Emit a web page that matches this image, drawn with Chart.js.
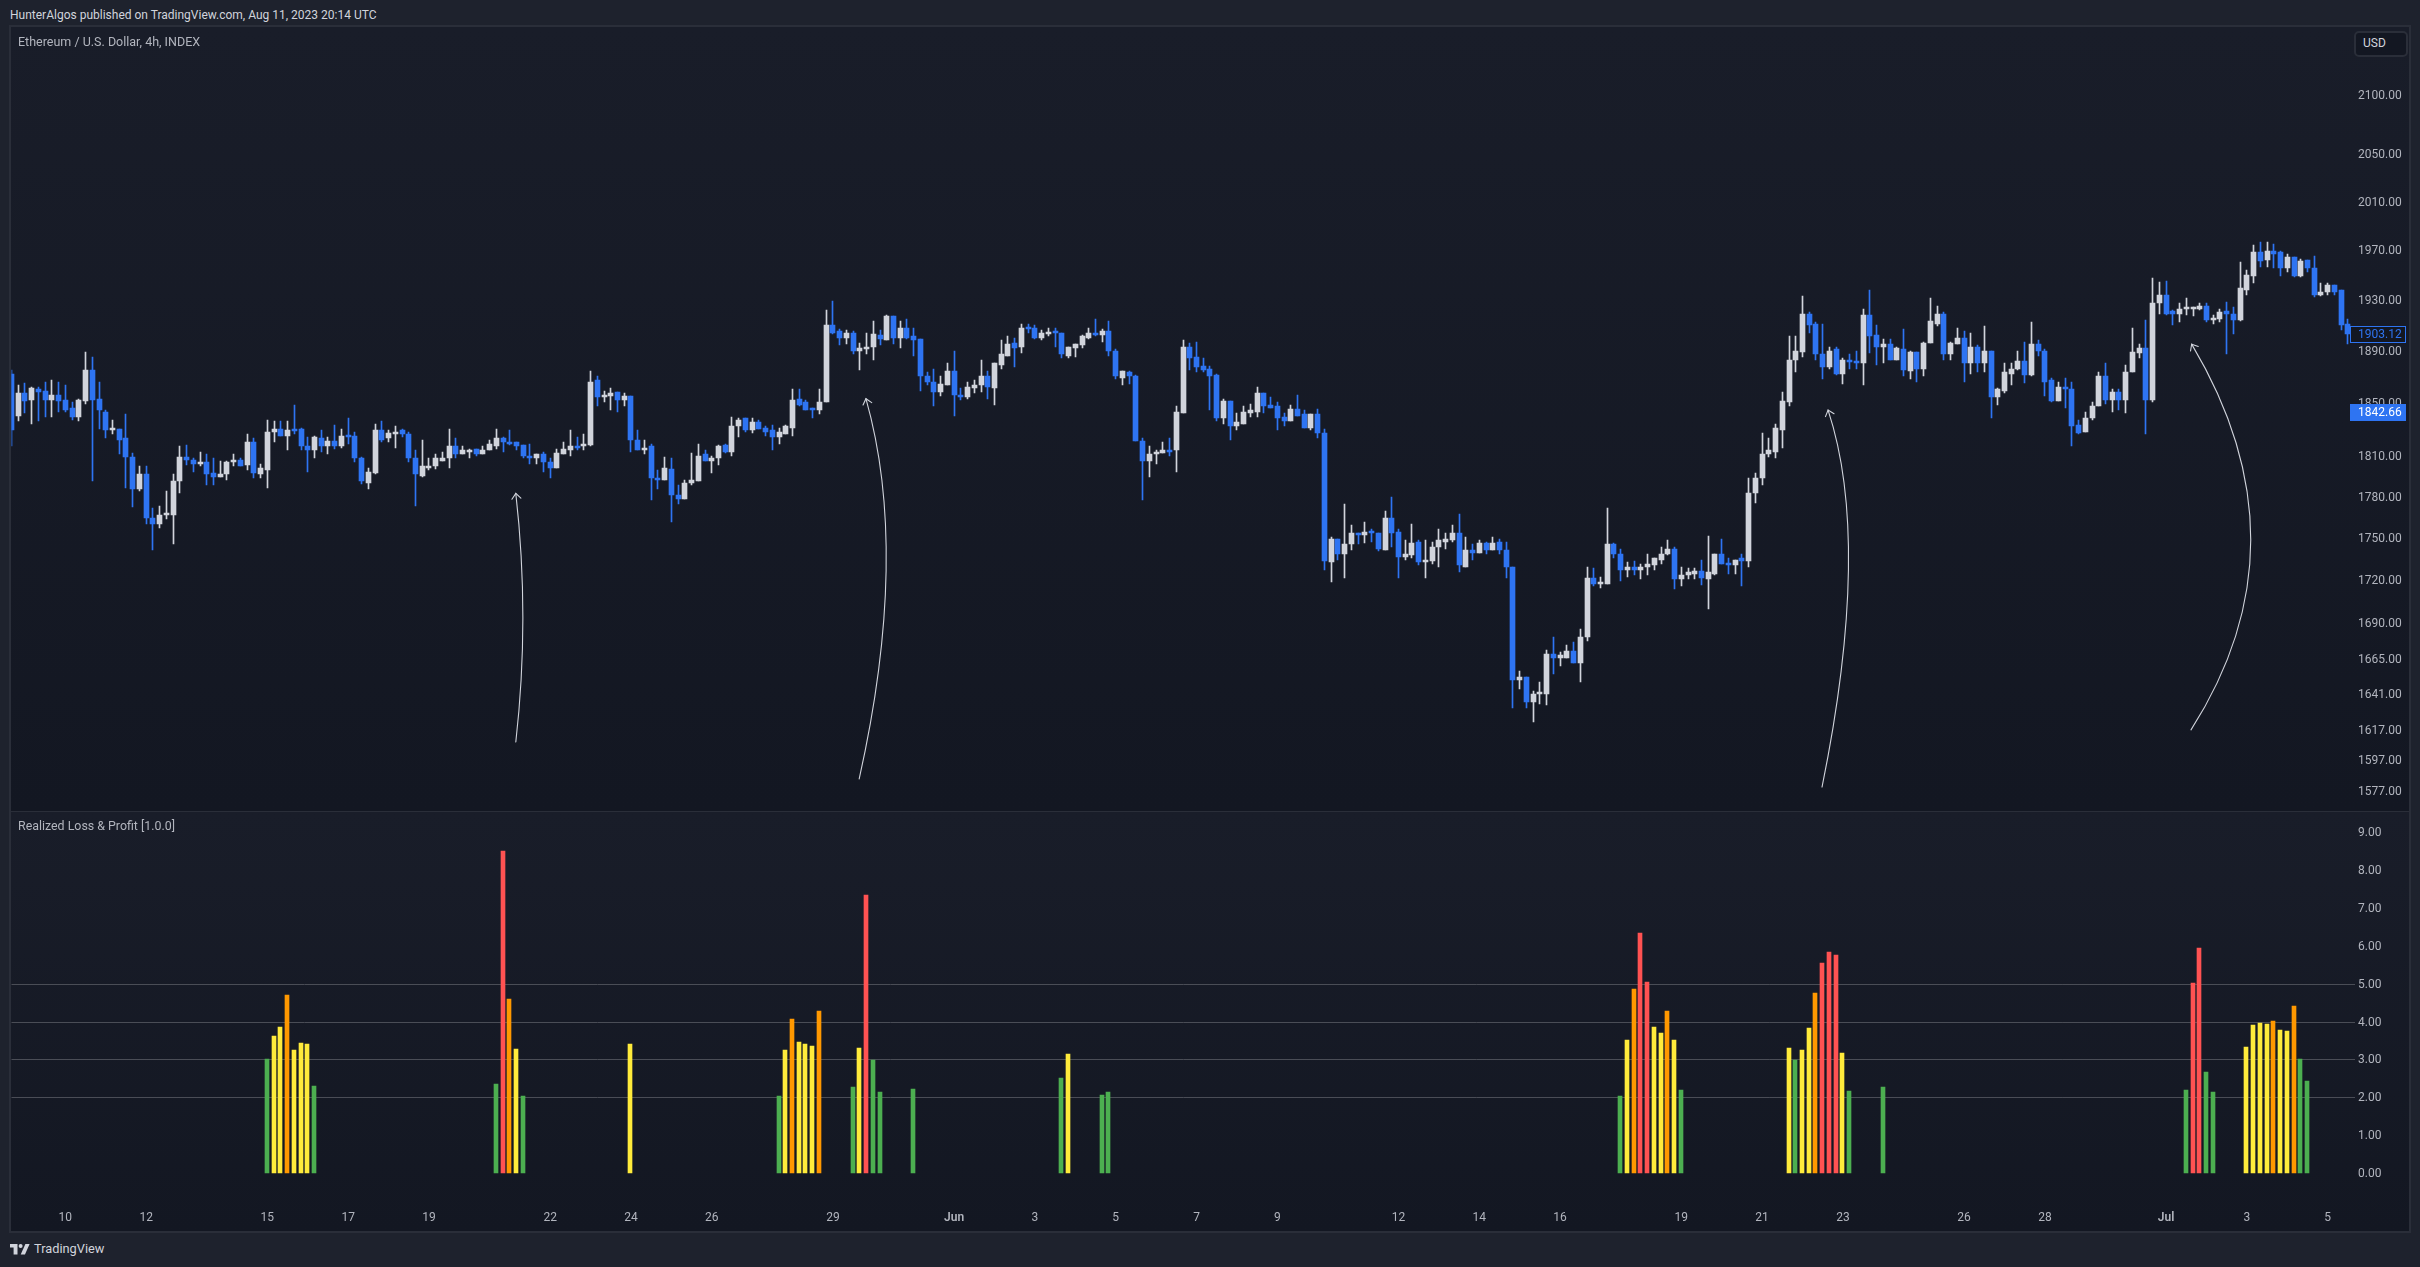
<!DOCTYPE html>
<html><head><meta charset="utf-8">
<style>
html,body{margin:0;padding:0;width:2420px;height:1267px;background:#1e222d;overflow:hidden;font-family:Roboto,sans-serif}
.abs{position:absolute}
.t{position:absolute;white-space:nowrap;line-height:16px}
canvas{position:absolute;display:block}
</style></head><body>
<div class="t" style="left:10px;top:7px;font-size:12px;color:#d1d4dc">HunterAlgos published on TradingView.com, Aug 11, 2023 20:14 UTC</div>
<div class="abs" style="left:9px;top:25px;width:2398px;height:1204px;border:2px solid #2a2e39"></div>
<div class="abs" style="left:11px;top:27px;width:2398px;height:784px;background:linear-gradient(#191d29,#131722)"></div>
<div class="abs" style="left:11px;top:811px;width:2398px;height:1px;background:#2a2e39"></div>
<div class="abs" style="left:11px;top:812px;width:2398px;height:419px;background:linear-gradient(#191d29,#131722)"></div>
<canvas id="priceChart" width="2398" height="784" style="left:11px;top:27px"></canvas>
<canvas id="lossChart" width="2398" height="419" style="left:11px;top:812px"></canvas>
<div class="t" style="left:18px;top:34px;font-size:12.5px;color:#b2b5be">Ethereum / U.S. Dollar, 4h, INDEX</div>
<div class="t" style="left:18px;top:818px;font-size:12.4px;color:#b2b5be">Realized Loss &amp; Profit [1.0.0]</div>
<div class="abs" style="left:2354px;top:31px;width:50px;height:22px;border:2px solid #2a2e39;border-radius:5px;background:#131722"></div>
<div class="t" style="left:2363px;top:35px;font-size:12px;color:#d1d4dc">USD</div>
<svg class="abs" style="left:10px;top:1244px" width="20" height="11" viewBox="0 0 20 11"><path fill="#d1d4dc" d="M0 0H7.5V10.5H3.6V3.6H0Z"/><circle cx="10.6" cy="2" r="2" fill="#d1d4dc"/><path fill="#d1d4dc" d="M15.4 0H19.6L15 10.5H10.7Z"/></svg>
<div class="t" style="left:34px;top:1241px;font-size:12.8px;color:#d1d4dc">TradingView</div>
<script src="https://cdn.jsdelivr.net/npm/chart.js@4"></script>
<script>
const opens=[1872,1840,1857,1852,1860,1859,1852,1856,1852,1846,
1839,1851,1875,1853,1843,1829,1830,1823,1809,1785,
1796,1764,1760,1766,1766,1791,1809,1807,1804,1805,
1797,1794,1796,1805,1807,1803,1820,1796,1799,1828,
1830,1825,1829,1830,1817,1814,1823,1817,1821,1817,
1825,1825,1808,1790,1797,1829,1823,1826,1829,1826,
1808,1795,1801,1802,1806,1808,1817,1811,1813,1815,
1811,1814,1817,1823,1820,1820,1818,1810,1808,1811,
1805,1801,1811,1814,1817,1817,1818,1867,1854,1855,
1858,1852,1855,1822,1814,1817,1793,1792,1800,1781,
1778,1790,1791,1811,1806,1808,1818,1813,1832,1838,
1829,1835,1831,1829,1824,1826,1831,1853,1850,1845,
1844,1850,1910,1905,1900,1904,1890,1891,1893,1902,
1898,1917,1900,1908,1901,1899,1870,1866,1858,1863,
1874,1856,1854,1861,1863,1870,1861,1879,1886,1896,
1893,1908,1908,1900,1903,1904,1904,1886,1892,1894,
1900,1904,1902,1905,1890,1869,1873,1870,1821,1806,
1811,1812,1814,1814,1842,1893,1885,1878,1876,1871,
1838,1851,1832,1834,1842,1843,1857,1848,1847,1839,
1836,1845,1841,1831,1841,1827,1732,1749,1738,1745,
1753,1752,1754,1753,1741,1764,1754,1736,1737,1747,
1732,1733,1743,1747,1748,1753,1729,1741,1739,1746,
1741,1747,1741,1729,1650,1652,1635,1641,1641,1668,
1665,1665,1670,1662,1680,1721,1717,1717,1745,1738,
1727,1729,1727,1729,1730,1734,1738,1742,1720,1723,
1724,1726,1720,1724,1738,1731,1730,1735,1733,1782,
1793,1811,1813,1829,1850,1883,1889,1919,1911,1887,
1877,1891,1872,1883,1882,1880,1918,1902,1893,1895,
1883,1891,1874,1889,1876,1896,1911,1919,1887,1895,
1900,1880,1893,1880,1890,1854,1859,1872,1876,1882,
1871,1895,1890,1867,1851,1862,1860,1833,1828,1838,
1847,1870,1852,1858,1852,1873,1888,1892,1852,1927,
1934,1921,1919,1923,1923,1923,1925,1914,1915,1921,
1919,1914,1938,1949,1968,1962,1969,1968,1955,1964,
1949,1962,1955,1934,1936,1942,1938,1911];
const highs=[1875,1863,1865,1862,1862,1866,1867,1866,1863,1850,
1853,1889,1885,1866,1844,1837,1830,1841,1812,1802,
1802,1771,1773,1784,1796,1817,1818,1808,1813,1811,
1808,1806,1806,1811,1808,1826,1823,1804,1837,1836,
1836,1836,1848,1831,1824,1825,1829,1824,1833,1830,
1838,1828,1809,1801,1834,1836,1829,1832,1830,1828,
1814,1822,1808,1811,1813,1830,1823,1817,1815,1815,
1817,1822,1830,1824,1829,1820,1818,1819,1811,1813,
1808,1815,1820,1829,1824,1826,1874,1870,1859,1861,
1858,1857,1855,1829,1822,1819,1799,1809,1808,1788,
1792,1812,1819,1814,1810,1818,1819,1839,1838,1838,
1838,1837,1832,1833,1831,1833,1860,1860,1852,1846,
1860,1922,1929,1907,1906,1905,1896,1904,1913,1906,
1918,1917,1913,1915,1908,1899,1873,1876,1870,1880,
1890,1861,1866,1867,1883,1874,1880,1898,1901,1900,
1911,1911,1910,1906,1908,1908,1904,1893,1895,1902,
1908,1915,1907,1913,1891,1874,1874,1871,1823,1817,
1814,1820,1823,1847,1898,1896,1897,1884,1878,1872,
1853,1851,1842,1847,1849,1862,1857,1854,1850,1842,
1848,1856,1844,1841,1845,1830,1750,1749,1774,1759,
1753,1761,1756,1753,1769,1779,1756,1748,1760,1748,
1748,1747,1756,1753,1759,1767,1750,1745,1748,1747,
1750,1749,1747,1729,1656,1652,1643,1649,1671,1680,
1669,1674,1676,1685,1729,1728,1722,1771,1746,1742,
1732,1733,1731,1738,1735,1743,1748,1743,1729,1728,
1728,1734,1751,1738,1749,1735,1734,1738,1793,1797,
1827,1823,1834,1858,1901,1901,1933,1920,1912,1911,
1893,1893,1884,1887,1890,1923,1938,1910,1899,1899,
1893,1907,1890,1889,1897,1931,1925,1920,1897,1908,
1905,1904,1894,1909,1890,1861,1880,1880,1890,1897,
1912,1898,1891,1869,1866,1869,1866,1837,1843,1850,
1873,1880,1860,1860,1879,1908,1895,1914,1947,1944,
1945,1922,1927,1931,1924,1927,1927,1918,1923,1928,
1924,1960,1954,1974,1976,1976,1975,1969,1967,1964,
1963,1962,1965,1943,1943,1942,1938,1915];
const lows=[1817,1836,1842,1834,1836,1839,1839,1843,1843,1837,
1836,1849,1791,1830,1823,1826,1811,1786,1772,1784,
1760,1741,1757,1763,1745,1782,1803,1798,1802,1788,
1788,1794,1792,1802,1802,1799,1793,1793,1786,1820,
1825,1814,1826,1814,1798,1808,1813,1811,1815,1816,
1819,1805,1789,1785,1796,1820,1820,1816,1824,1805,
1773,1794,1799,1800,1806,1801,1808,1811,1808,1810,
1811,1814,1815,1813,1818,1814,1808,1804,1804,1798,
1793,1801,1811,1810,1814,1814,1817,1847,1850,1844,
1843,1847,1813,1814,1811,1777,1785,1792,1761,1774,
1778,1788,1791,1806,1797,1803,1812,1810,1824,1828,
1827,1830,1825,1814,1819,1826,1825,1847,1844,1838,
1841,1850,1903,1894,1895,1887,1875,1887,1883,1894,
1898,1895,1892,1899,1886,1859,1863,1847,1855,1863,
1840,1852,1853,1857,1858,1853,1848,1876,1886,1877,
1888,1904,1899,1898,1901,1893,1884,1884,1885,1892,
1899,1901,1897,1886,1868,1863,1864,1821,1777,1794,
1804,1812,1810,1798,1842,1875,1873,1873,1844,1836,
1834,1822,1829,1834,1839,1839,1842,1846,1829,1832,
1836,1840,1831,1829,1823,1727,1718,1734,1721,1741,
1745,1746,1747,1740,1741,1743,1721,1734,1735,1730,
1721,1731,1729,1742,1747,1725,1729,1734,1739,1738,
1741,1738,1721,1631,1644,1631,1622,1634,1633,1654,
1660,1665,1662,1649,1677,1715,1714,1717,1735,1719,
1722,1723,1720,1723,1727,1731,1737,1713,1715,1720,
1720,1716,1699,1723,1731,1724,1724,1715,1729,1775,
1788,1809,1808,1816,1847,1873,1885,1904,1883,1868,
1876,1871,1864,1876,1876,1863,1888,1879,1880,1883,
1883,1870,1868,1866,1870,1896,1909,1883,1883,1895,
1866,1872,1873,1873,1838,1848,1857,1863,1875,1865,
1870,1886,1855,1850,1851,1846,1817,1826,1828,1837,
1847,1849,1843,1844,1842,1873,1884,1826,1850,1919,
1918,1910,1912,1918,1917,1922,1912,1911,1912,1887,
1903,1913,1934,1943,1956,1956,1955,1949,1952,1948,
1948,1952,1932,1933,1934,1934,1906,1895];
const closes=[1829,1857,1851,1861,1858,1852,1856,1851,1844,1839,
1852,1875,1852,1844,1829,1831,1822,1809,1785,1796,
1764,1760,1766,1766,1791,1809,1807,1804,1805,1796,
1794,1796,1805,1807,1802,1820,1797,1801,1828,1830,
1825,1829,1828.5,1817,1814,1824,1817,1821,1817,1825,
1824,1808,1791,1798,1829,1822,1827,1828,1826,1808,
1796,1802,1802,1808,1808,1817,1811,1814,1814,1811,
1814,1819,1823,1820,1819,1817,1810,1808,1811,1805,
1801,1812,1815,1817,1816,1819,1866,1854,1856,1857,
1852,1855,1822,1814,1816,1793,1792,1801,1781,1778,
1790,1792,1810,1806,1808,1817,1813,1832,1837,1829,
1835,1830,1828,1824,1828,1832,1852,1848,1844,1844,
1850,1910,1904,1900,1904,1890,1892,1893,1903,1899,
1917,1900,1908,1900,1898,1870,1866,1858,1864,1874,
1856,1854,1862,1863,1870,1862,1880,1887,1895,1892,
1908,1907,1900,1904,1904,1903.5,1887,1893,1895,1901,
1904,1902,1905,1890,1870,1874,1870,1821,1806,1811,
1813,1814,1813,1843,1893,1884,1877,1875,1870,1838,
1851,1832,1835,1843,1844,1857,1847,1846,1838,1836,
1845,1840,1831,1841,1827,1733,1749,1738,1745,1753,
1752,1754,1753,1742,1764,1753,1736,1738,1746,1732,
1734,1743,1748,1749,1753,1730,1741,1739,1746,1741,
1746,1741,1729,1650,1652,1635,1641,1641,1668,1665,
1667,1670,1662,1680,1721,1717,1718,1745,1738,1727,
1729,1727,1729,1731,1735,1738,1742,1720,1723,1725,
1726,1721,1725,1738,1731,1730,1734,1733,1782,1793,
1811,1814,1831,1851,1883,1890,1919,1910,1887,1877,
1890,1872,1883,1881,1880,1918,1901,1893,1895,1883,
1892,1875,1889,1876,1896,1913,1919,1887,1896,1900,
1880,1893,1880,1890,1854,1860,1873,1876,1882,1871,
1895,1890,1866,1851,1862,1860,1832,1827,1838,1847,
1870,1852,1858,1852,1873,1889,1892,1852,1927,1934,
1919,1919,1923,1923,1923,1925,1914,1915,1920,1919,
1914,1939,1950,1968,1961,1969,1967,1955,1964,1949,
1961,1955,1934,1936,1942,1936,1910,1903.12];
const priceTicks=[2100,2050,2010,1970,1930,1890,1850,1810,1780,1750,1720,1690,1665,1641,1617,1597,1577];
const axisTickBars=[8,20,38,50,62,80,92,104,122,140,152,164,176,188,206,218,230,248,260,272,290,302,320,332,344];
const axisTickLabels=['10','12','15','17','19','22','24','26','29','Jun','3','5','7','9','12','14','16','19','21','23','26','28','Jul','3','5'];
const lossBars=[38,39,40,41,42,43,44,45,72,73,74,75,76,92,114,115,116,117,118,119,120,125,126,127,128,129,134,156,157,162,163,239,240,241,242,243,244,245,246,247,248,264,265,266,267,268,269,270,271,272,273,278,323,324,325,326,327,332,333,334,335,336,337,338,339,340,341];
const lossValues=[3.01,3.62,3.86,4.70,3.25,3.43,3.41,2.30,2.35,8.51,4.60,3.28,2.03,3.41,2.03,3.25,4.07,3.46,3.41,3.36,4.28,2.27,3.30,7.34,2.99,2.14,2.22,2.51,3.14,2.06,2.14,2.03,3.51,4.86,6.34,5.05,3.86,3.70,4.28,3.51,2.19,3.30,2.99,3.25,3.83,4.76,5.55,5.84,5.76,3.17,2.17,2.27,2.19,5.02,5.94,2.67,2.14,3.33,3.91,3.96,3.94,4.02,3.78,3.75,4.41,3.01,2.43];
const lossHlines=[2,3,4,5];
const lastPrice=1903.12, markPrice=1842.66;
// annotation arrows: tip, control, tail as [bar, price]
const arrowTips=[[74.9,1782],[126.9,1852.9],[269.8,1844.2],[323.8,1895]];
const arrowCtrls=[[77.0,1692.9],[133.4,1738.8],[276.3,1746.5],[341.4,1745.9]];
const arrowTails=[[74.9,1608.6],[125.9,1584.3],[268.9,1579],[323.7,1616.6]];

const UP='#d1d4dc', DOWN='#2e74f2';
const GREEN='#4caf50', YELLOW='#ffeb3b', ORANGE='#ff9800', RED='#ff5252';
const TICK='#b2b5be';
const FONT='Roboto';
const BAR_COUNT=opens.length+1;
const labels=Array.from({length:BAR_COUNT},(_,i)=>{const k=axisTickBars.indexOf(i);return k<0?'':axisTickLabels[k];});
const candleColors=opens.map((o,i)=>closes[i]<o?DOWN:UP);
const lossSeries=new Array(BAR_COUNT).fill(null);
lossBars.forEach((b,i)=>lossSeries[b]=lossValues[i]);
const lossColor=v=>v>=5?RED:v>=4?ORANGE:v>=3.05?YELLOW:GREEN;

Chart.defaults.animation=false;
Chart.defaults.font.family=FONT;

const snap={id:'snap',afterDatasetsUpdate(chart){
  chart.data.datasets.forEach((d,di)=>{
    const odd=d.barThickness%2===1;
    chart.getDatasetMeta(di).data.forEach(el=>{
      el.x=Math.floor(el.x)+(odd?0.5:0);
      if(el.y==null||isNaN(el.y))return;
      el.y=Math.round(el.y);el.base=Math.round(el.base);
    });
  });
}};
const overlays={id:'overlays',afterDraw(chart){
  const c=chart.ctx,x=chart.scales.x,y=chart.scales.y;
  c.save();
  c.strokeStyle='#d1d4dc';c.lineWidth=1.1;c.lineCap='round';
  arrowTips.forEach((t,i)=>{
    const tx=x.getPixelForValue(t[0]),ty=y.getPixelForValue(t[1]);
    const cx=x.getPixelForValue(arrowCtrls[i][0]),cy=y.getPixelForValue(arrowCtrls[i][1]);
    const ex=x.getPixelForValue(arrowTails[i][0]),ey=y.getPixelForValue(arrowTails[i][1]);
    c.beginPath();c.moveTo(tx,ty);c.quadraticCurveTo(cx,cy,ex,ey);c.stroke();
    const a=Math.atan2(cy-ty,cx-tx);
    c.beginPath();
    c.moveTo(tx+7*Math.cos(a-0.7),ty+7*Math.sin(a-0.7));c.lineTo(tx,ty);
    c.lineTo(tx+7*Math.cos(a+0.7),ty+7*Math.sin(a+0.7));c.stroke();
  });
  const left=2339,w=56,h=17;
  c.font='12px '+FONT;c.textBaseline='middle';c.textAlign='left';
  const y1=Math.round(y.getPixelForValue(lastPrice));
  c.fillStyle='#131722';c.fillRect(left,y1-8,w,h);
  c.strokeStyle=DOWN;c.lineWidth=1;c.strokeRect(left+.5,y1-7.5,w-1,h-1);
  c.fillStyle=DOWN;c.fillText(lastPrice.toFixed(2),2347,y1+1);
  const y2=Math.round(y.getPixelForValue(markPrice));
  c.fillStyle=DOWN;c.fillRect(left,y2-8,w,h);
  c.fillStyle='#ffffff';c.fillText(markPrice.toFixed(2),2347,y2+1);
  c.restore();
}};
const fixY=s=>{s.width=54.4;s.paddingTop=0;s.paddingBottom=0;};

new Chart(document.getElementById('priceChart'),{
  type:'bar',
  data:{labels,datasets:[
    {label:'wick',data:lows.map((l,i)=>[l,highs[i]]),backgroundColor:candleColors,barThickness:1,grouped:false,order:2},
    {label:'body',data:opens.map((o,i)=>[o,closes[i]]),backgroundColor:candleColors,barThickness:5,minBarLength:2,grouped:false,order:1}
  ]},
  plugins:[snap,overlays],
  options:{responsive:false,devicePixelRatio:1,events:[],layout:{padding:{left:.5,right:0,top:0,bottom:0}},
    plugins:{legend:{display:false},tooltip:{enabled:false}},
    scales:{
      x:{offset:false,display:false,grid:{display:false}},
      y:{type:'logarithmic',position:'right',min:1563.5,max:2159.4,afterFit:fixY,
        afterBuildTicks:s=>{s.ticks=priceTicks.map(value=>({value}));},
        grid:{display:false,drawTicks:false},border:{display:false},
        ticks:{autoSkip:false,color:TICK,padding:3.4,labelOffset:1.5,font:{size:12},callback:v=>Number(v).toFixed(2)}}
    }}
});

new Chart(document.getElementById('lossChart'),{
  type:'bar',
  data:{labels,datasets:[
    {label:'Realized Loss & Profit',data:lossSeries,backgroundColor:lossSeries.map(v=>v==null?GREEN:lossColor(v)),barThickness:4,grouped:false}
  ]},
  plugins:[snap],
  options:{responsive:false,devicePixelRatio:1,events:[],layout:{padding:{left:.5,right:0,top:0,bottom:0}},
    plugins:{legend:{display:false},tooltip:{enabled:false}},
    scales:{
      x:{offset:false,afterFit:s=>{s.height=31;s.paddingLeft=0;s.paddingRight=0;},grid:{display:false,drawTicks:false},border:{display:false},
        ticks:{autoSkip:false,maxRotation:0,minRotation:0,color:TICK,padding:11,
          font:c=>({size:12,weight:/[a-z]/i.test(c.tick&&c.tick.label||'')?'600':'400'})}},
      y:{position:'right',min:-0.713,max:9.538,afterFit:fixY,alignToPixels:true,
        border:{display:false},
        grid:{drawTicks:false,lineWidth:1,color:c=>lossHlines.includes(c.tick&&c.tick.value)?'#4a4d56':'rgba(0,0,0,0)'},
        ticks:{stepSize:1,includeBounds:false,autoSkip:false,color:TICK,padding:3.4,labelOffset:1,font:{size:12},callback:v=>Number(v).toFixed(2)}}
    }}
});
</script>
</body></html>
